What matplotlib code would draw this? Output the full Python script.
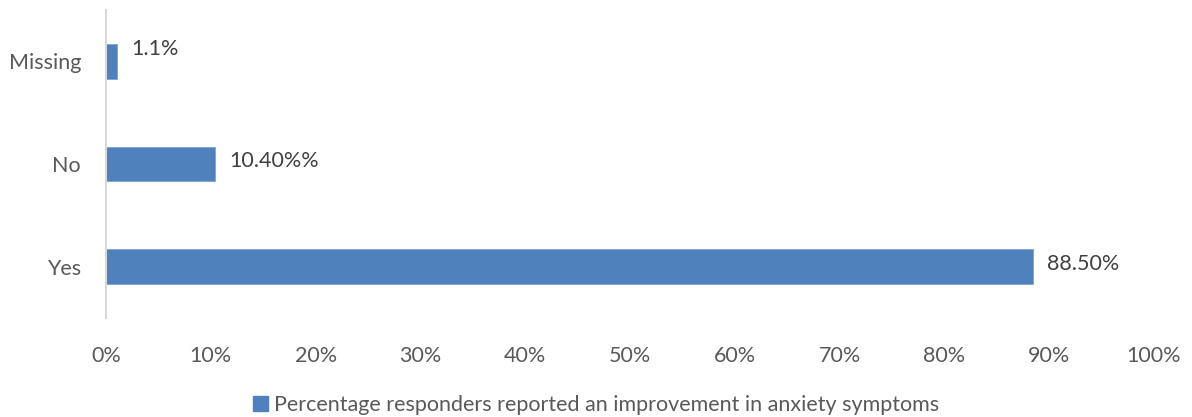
import matplotlib
matplotlib.use("Agg")
import matplotlib.pyplot as plt
from matplotlib.ticker import FuncFormatter
from matplotlib.patches import Patch

categories = ["Yes", "No", "Missing"]
values = [88.5, 10.4, 1.1]
value_labels = ["88.50%", "10.40%%", "1.1%"]
xticks = [0, 10, 20, 30, 40, 50, 60, 70, 80, 90, 100]
series_name = "Percentage responders reported an improvement in anxiety symptoms"

bar_color = "#4F81BD"
text_color = "#595959"
fs = 15.5

plt.rcParams["font.family"] = ["Lato", "DejaVu Sans"]

fig = plt.figure(figsize=(11.92, 4.17), dpi=100)
ax = fig.add_axes([0.0889, 0.2374, 0.8792, 0.7386])

ypos = list(range(len(categories)))
ax.barh(ypos, values, height=0.34, color=bar_color, edgecolor="#7FA3D3", linewidth=0.6)

label_dy = [2, 2, 9]
for y, v, lab, dy in zip(ypos, values, value_labels, label_dy):
    ax.annotate(lab, xy=(v, y), xytext=(10, dy), textcoords="offset points",
                va="center", ha="left", fontsize=fs, color="#404040")

ax.set_xlim(0, 100)
ax.set_ylim(-0.5, 2.5)
ax.set_yticks(ypos)
ax.set_yticklabels(categories, fontsize=fs, color=text_color)
ax.set_xticks(xticks)
ax.xaxis.set_major_formatter(FuncFormatter(lambda x, p: f"{int(x)}%"))
ax.tick_params(axis="x", labelsize=fs, labelcolor=text_color, length=0, pad=20)
ax.tick_params(axis="y", length=0, pad=18)

for side in ["top", "right", "bottom"]:
    ax.spines[side].set_visible(False)
ax.spines["left"].set_color("#D9D9D9")
ax.spines["left"].set_linewidth(1.5)

handle = Patch(facecolor=bar_color, edgecolor=bar_color)
fig.legend([handle], [series_name], loc="center", bbox_to_anchor=(0.5, 0.028),
           frameon=False, fontsize=fs, handlelength=0.7, handleheight=0.7,
           handletextpad=0.3, labelcolor=text_color)

fig.savefig("out.png", dpi=100)
